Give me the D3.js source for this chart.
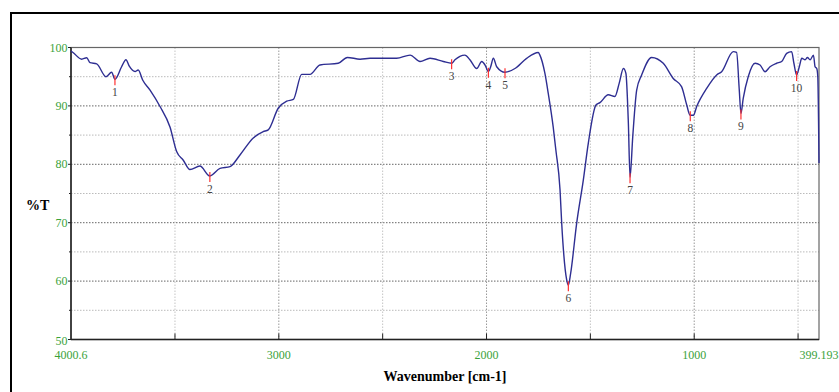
<!DOCTYPE html>
<html><head><meta charset="utf-8">
<script src="https://cdn.jsdelivr.net/npm/d3@7"></script>
<style>html,body{margin:0;padding:0;background:#fff;}svg{display:block;}</style>
</head><body>
<svg id="c" width="839" height="392"></svg>
<script>
// Spectrum trace (wavenumber cm-1, %T)
const wavenumber = [4000.6,3989.5,3949,3925,3909,3877,3832,3805,3789,3757,3736,3720,3692,3677,3655,3620,3572,3524,3492,3460,3428,3380,3332,3283,3235,3187,3123,3075,3051,3003,2962,2930,2890,2850,2802,2714,2670,2609,2561,2433,2368,2320,2272,2208,2168,2152,2128,2104,2080,2047,2023,2007,1991,1980,1967,1951,1911,1863,1807,1751,1743,1719,1703,1679,1666,1646,1638,1614,1606,1595,1566,1534,1510,1473,1454,1414,1382,1361,1341,1329,1317,1309,1296,1277,1253,1205,1149,1101,1061,1036,1020,1004,988,940,892,868,812,796,783,775,764,740,707,683,659,635,603,579,555,531,520,507,494,482,466,455,442,426,418,410,405,399.193];
const transmittance = [99.4,99.1,98.0,98.25,97.4,97.2,95.0,95.75,94.55,96.7,97.9,96.8,95.9,96.15,94.4,92.7,89.9,86.4,82.2,80.7,79.1,79.7,78.0,79.3,79.6,81.6,84.5,85.6,85.9,89.6,90.8,91.1,95.4,95.4,97.0,97.3,98.3,98.0,98.15,98.15,98.7,97.6,98.15,97.6,97.3,97.9,98.5,98.7,97.9,96.4,97.6,97.0,95.85,96.7,98.15,96.7,95.75,96.4,98.15,99.15,98.7,95.6,92.2,86.4,82.4,75.6,69.9,60.2,59.3,61.3,69.9,77.3,83.6,90.15,90.55,91.9,91.6,93.9,96.4,95.6,87.0,77.8,84.7,92.7,95.3,98.3,97.3,94.7,93.3,90.15,88.4,88.4,89.9,93.0,95.3,95.85,99.3,99.15,92.7,88.7,91.3,95.0,97.3,97.0,95.85,96.7,97.3,97.6,99.0,99.3,97.3,95.3,96.7,98.15,97.9,98.3,97.9,98.7,96.7,96.4,95.0,80.2];

// Peak picks
const peakLabels = ["1","2","3","4","5","6","7","8","9","10"];
const peakWn = [3789,3332,2168,1991,1911,1606,1309,1019,775,507];
const peakT  = [94.55,78.0,97.3,95.85,95.75,59.3,77.8,88.4,88.7,95.3];

// Axis ticks
const xTickValues = [4000.6,3000,2000,1000,399.193];
const xTickLabels = ["4000.6","3000","2000","1000","399.193"];
const xGridValues = [3500,3000,2500,2000,1500,1000,500];
const yTickValues = [100,90,80,70,60,50];
const yMinorValues = [95,85,75,65,55];

const svg = d3.select("#c");
const L = 71, R = 819, T = 47.5, B = 339.5;
const x = d3.scaleLinear().domain([4000.6, 399.193]).range([L, R]);
const y = d3.scaleLinear().domain([50, 100]).range([B, T]);
const serif = "'Liberation Serif','DejaVu Serif',serif";
const green = "#3aa23a";

// outer frame
svg.append("line").attr("x1",11).attr("x2",11).attr("y1",12).attr("y2",392).attr("stroke","#000").attr("stroke-width",2);
svg.append("line").attr("x1",10).attr("x2",839).attr("y1",13).attr("y2",13).attr("stroke","#000").attr("stroke-width",2);

// grid
const g = svg.append("g");
g.selectAll("line.hmin").data(yMinorValues).join("line")
  .attr("x1",L).attr("x2",R).attr("y1",d=>y(d)).attr("y2",d=>y(d))
  .attr("stroke","#bbb").attr("stroke-width",1).attr("stroke-dasharray","1.5,1.5");
g.selectAll("line.hmaj").data(yTickValues.filter(v=>v>50&&v<100)).join("line")
  .attr("x1",L).attr("x2",R).attr("y1",d=>y(d)).attr("y2",d=>y(d))
  .attr("stroke","#666").attr("stroke-width",1).attr("stroke-dasharray","1.5,1.5");
g.selectAll("line.v").data(xGridValues).join("line")
  .attr("x1",d=>x(d)).attr("x2",d=>x(d)).attr("y1",T).attr("y2",B)
  .attr("stroke",d=>d%1000===0?"#999":"#c4c4c4").attr("stroke-width",1).attr("stroke-dasharray","1.5,1.5");

// plot box
svg.append("rect").attr("x",L).attr("y",T).attr("width",R-L).attr("height",B-T)
  .attr("fill","none").attr("stroke","#666").attr("stroke-width",1.2);
svg.append("line").attr("x1",L).attr("x2",L).attr("y1",T).attr("y2",B).attr("stroke","#222").attr("stroke-width",1.5);
svg.append("line").attr("x1",L).attr("x2",R).attr("y1",B).attr("y2",B).attr("stroke","#222").attr("stroke-width",1.5);

// y ticks
svg.selectAll("line.yt").data(yTickValues).join("line")
  .attr("x1",L-3).attr("x2",L).attr("y1",d=>y(d)).attr("y2",d=>y(d)).attr("stroke","#222");
svg.selectAll("line.ymt").data(yMinorValues).join("line")
  .attr("x1",L-2).attr("x2",L).attr("y1",d=>y(d)).attr("y2",d=>y(d)).attr("stroke","#222");
svg.selectAll("text.yl").data(yTickValues).join("text")
  .attr("x",L-3.5).attr("y",d=>d===50? y(d)+5.5 : y(d)+4)
  .attr("text-anchor","end").attr("font-family",serif).attr("font-size",12).attr("fill",green)
  .text(d=>d);

// x ticks
svg.selectAll("line.xt").data(xGridValues).join("line")
  .attr("x1",d=>x(d)).attr("x2",d=>x(d)).attr("y1",B).attr("y2",B-6).attr("stroke","#222");
svg.selectAll("text.xl").data(xTickValues).join("text")
  .attr("x",d=>x(d)).attr("y",B+19.5)
  .attr("text-anchor","middle").attr("font-family",serif).attr("font-size",12).attr("fill",green)
  .text((d,i)=>xTickLabels[i]);

// axis titles
svg.append("text").attr("x",(L+R)/2).attr("y",381).attr("text-anchor","middle")
  .attr("font-family",serif).attr("font-size",14).attr("font-weight","bold").attr("fill","#000")
  .text("Wavenumber [cm-1]");
svg.append("text").attr("x",26).attr("y",210)
  .attr("font-family",serif).attr("font-size",14).attr("font-weight","bold").attr("fill","#000")
  .text("%T");

// spectrum
const line = d3.line().x((d,i)=>x(wavenumber[i])).y((d,i)=>y(transmittance[i])).curve(d3.curveMonotoneX);
svg.append("path").attr("d",line(transmittance)).attr("fill","none")
  .attr("stroke","#2e2e92").attr("stroke-width",1.4).attr("stroke-linejoin","round");

// peak marks
svg.selectAll("line.pk").data(peakWn).join("line")
  .attr("x1",d=>x(d)).attr("x2",d=>x(d))
  .attr("y1",(d,i)=>y(peakT[i])-4).attr("y2",(d,i)=>y(peakT[i])+6)
  .attr("stroke","#ff3030").attr("stroke-width",1.2);
svg.selectAll("text.pk").data(peakWn).join("text")
  .attr("x",d=>x(d)).attr("y",(d,i)=>y(peakT[i])+17)
  .attr("text-anchor","middle").attr("font-family",serif).attr("font-size",11.5).attr("fill","#444")
  .text((d,i)=>peakLabels[i]);
</script>
</body></html>
